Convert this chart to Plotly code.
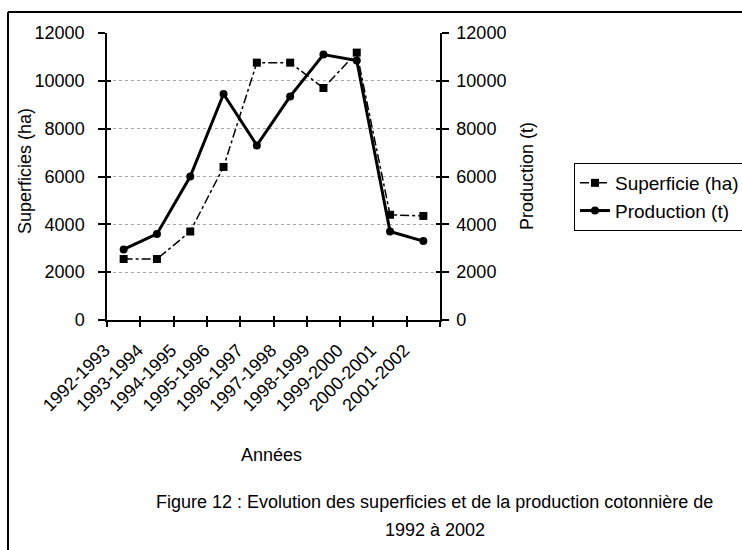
import plotly.graph_objects as go

annees = ["1992-1993", "1993-1994", "1994-1995", "1995-1996", "1996-1997",
          "1997-1998", "1998-1999", "1999-2000", "2000-2001", "2001-2002"]
superficie_ha = [2550, 2550, 3700, 6400, 10760, 10760, 9700, 11180, 4400, 4350]
production_t = [2950, 3600, 6000, 9450, 7300, 9350, 11100, 10850, 3700, 3300]
y_ticks = [0, 2000, 4000, 6000, 8000, 10000, 12000]
y_ticktext = ["0", "2000", "4000", "6000", "8000", "10000", "12000"]

FONT = "Liberation Sans, Arial, sans-serif"
W, H = 742, 550
L, R, T, B = 107, 440, 33, 320  # plot area in pixels
pw, ph = R - L, B - T


def px(x):
    return (x - L) / pw


def py(y):
    return (B - y) / ph


fig = go.Figure()
fig.add_trace(go.Scatter(
    x=annees, y=superficie_ha, name="Superficie (ha)", mode="lines+markers",
    line=dict(color="black", width=1.5, dash="dashdot"),
    marker=dict(symbol="square", size=8, color="black"),
    xaxis="x", yaxis="y"))
fig.add_trace(go.Scatter(
    x=annees, y=production_t, name="Production (t)", mode="lines+markers",
    line=dict(color="black", width=3),
    marker=dict(symbol="circle", size=8, color="black"),
    xaxis="x", yaxis="y2"))

axis_common = dict(range=[0, 12000], tickvals=y_ticks, ticktext=y_ticktext,
                   tickfont=dict(family=FONT, size=18, color="black"),
                   showline=True, linecolor="black", linewidth=1.5, ticks="outside",
                   ticklen=7, tickcolor="black", tickwidth=1.5, zeroline=False)

fig.update_layout(
    width=W, height=H,
    margin=dict(l=L, r=W - R, t=T, b=H - B, autoexpand=False),
    paper_bgcolor="white", plot_bgcolor="white",
    font=dict(family=FONT, size=17, color="black"),
    showlegend=True,
    legend=dict(x=px(574), y=py(163), xanchor="left", yanchor="top",
                bordercolor="black", borderwidth=1, bgcolor="white",
                font=dict(family=FONT, size=19, color="black"),
                tracegroupgap=0),
    xaxis=dict(type="category", range=[-0.5, 9.5], tickson="boundaries",
               ticks="outside", ticklen=5, tickcolor="black", tickwidth=1.5,
               showline=True, linecolor="black", linewidth=1.5,
               tickangle=-45, tickfont=dict(family=FONT, size=18, color="black"),
               ticklabelshift=-19, ticklabelstandoff=11,
               showgrid=False),
    xaxis2=dict(overlaying="x", type="linear", range=[-0.5, 9.5], tick0=-0.5, dtick=1,
                ticks="inside", ticklen=4, tickcolor="black", tickwidth=1.5,
                showticklabels=False, showgrid=False, showline=False, zeroline=False),
    yaxis=dict(side="left", showgrid=True, gridcolor="#a8a8a8", griddash="dot", gridwidth=1,
               ticklabelstandoff=10, **axis_common),
    yaxis2=dict(side="right", overlaying="y", showgrid=False, ticklabelstandoff=4, **axis_common),
    yaxis3=dict(side="left", overlaying="y", range=[0, 12000], tickvals=y_ticks,
                ticks="inside", ticklen=4, tickcolor="black", tickwidth=1.5,
                showticklabels=False, showgrid=False, showline=False, zeroline=False),
    yaxis4=dict(side="right", overlaying="y", range=[0, 12000], tickvals=y_ticks,
                ticks="inside", ticklen=4, tickcolor="black", tickwidth=1.5,
                showticklabels=False, showgrid=False, showline=False, zeroline=False),
)

# empty traces so the overlay axes are drawn
fig.add_trace(go.Scatter(x=[], y=[], xaxis="x2", yaxis="y3", showlegend=False, hoverinfo="skip"))
fig.add_trace(go.Scatter(x=[], y=[], xaxis="x2", yaxis="y4", showlegend=False, hoverinfo="skip"))

# outer frame (left and top edges; right/bottom lie outside the picture)
frame = dict(type="line", xref="paper", yref="paper", line=dict(color="black", width=2), layer="above")
fig.add_shape(x0=px(8), x1=px(8), y0=py(12), y1=py(550), **frame)
fig.add_shape(x0=px(8), x1=px(742), y0=py(12), y1=py(12), **frame)

ann = dict(xref="paper", yref="paper", showarrow=False,
           font=dict(family=FONT, size=18, color="black"))
fig.add_annotation(text="Superficies (ha)", x=px(25), y=py(171), textangle=-90,
                   xanchor="center", yanchor="middle", **ann)
fig.add_annotation(text="Production (t)", x=px(527), y=py(176), textangle=-90,
                   xanchor="center", yanchor="middle", **ann)
fig.add_annotation(text="Années", x=px(271), y=py(455), xanchor="center", yanchor="middle", **ann)
fig.add_annotation(text="Figure 12 : Evolution des superficies et de la production cotonnière de",
                   x=px(434), y=py(502), xanchor="center", yanchor="middle", **ann)
fig.add_annotation(text="1992 à 2002", x=px(435), y=py(530), xanchor="center", yanchor="middle", **ann)

fig.write_html("out.html", config={"displayModeBar": False},
               post_script="document.body.style.margin='0';")
